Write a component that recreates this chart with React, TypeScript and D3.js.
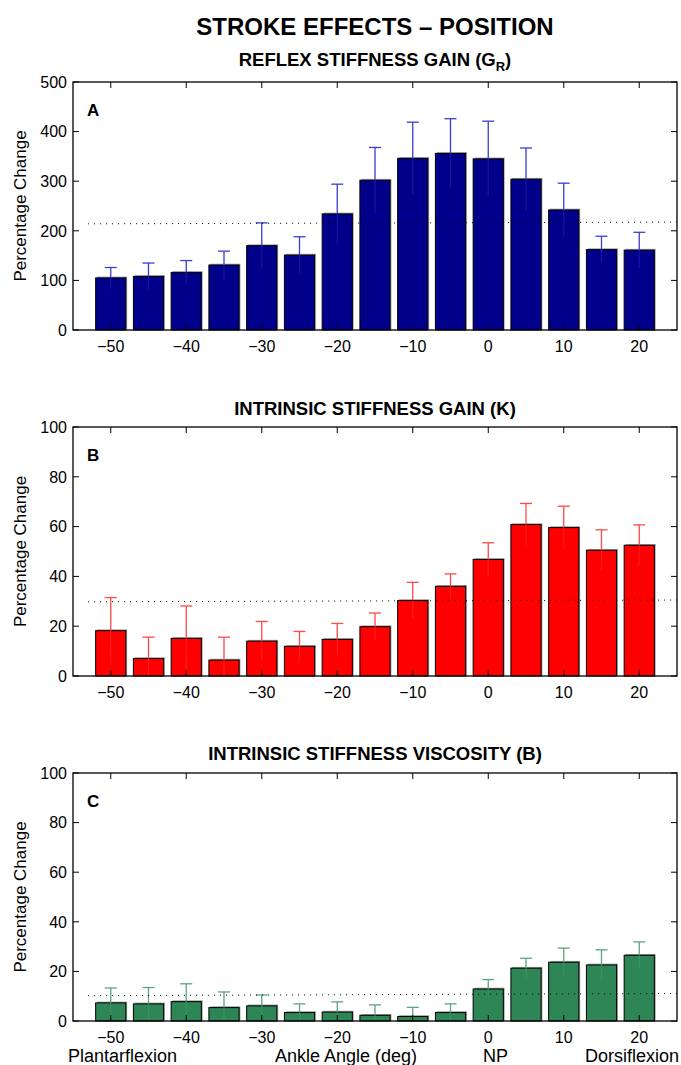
import React from 'react';
import * as d3 from 'd3';

// ankle angles (deg) of the 15 bars and the tick labels under them
const angles = [-50, -45, -40, -35, -30, -25, -20, -15, -10, -5, 0, 5, 10, 15, 20];
const xTicks = [-50, -40, -30, -20, -10, 0, 10, 20];

// A: reflex stiffness gain
const reflexGain = [105, 108, 116, 131, 170, 151, 234, 302, 346, 356, 345, 304, 242, 162, 161];
const reflexErr = [21, 27, 24, 28, 46, 37, 60, 66, 73, 70, 76, 63, 54, 27, 36];
const reflexRef = [214, 217.5];
const reflexTicks = [0, 100, 200, 300, 400, 500];

// B: intrinsic stiffness gain
const intrinsicGain = [18.2, 7.0, 15.1, 6.4, 14.0, 11.9, 14.7, 19.8, 30.3, 36.0, 46.8, 60.8, 59.6, 50.5, 52.5];
const intrinsicErr = [13.3, 8.6, 13.0, 9.2, 7.9, 6.0, 6.4, 5.5, 7.3, 5.0, 6.7, 8.5, 8.6, 8.2, 8.2];
const intrinsicRef = [29.8, 30.5];

// C: intrinsic viscosity
const viscosity = [7.3, 6.9, 7.8, 5.4, 6.1, 3.4, 3.6, 2.3, 1.8, 3.4, 12.9, 21.3, 23.7, 22.6, 26.5];
const viscosityErr = [6.0, 6.6, 7.2, 6.3, 4.4, 3.5, 4.1, 4.2, 3.7, 3.5, 3.8, 4.0, 5.7, 6.1, 5.4];
const viscosityRef = [10.2, 11.1];

const pctTicks = [0, 20, 40, 60, 80, 100];

const FONT = '"Liberation Sans", Arial, Helvetica, sans-serif';
const left = 73, right = 677;
const x = d3.scaleLinear().domain([-55, 25]).range([left, right]);
const minus = (t: number) => String(t).replace('-', '\u2212');

type PanelProps = {
  top: number; bottom: number; yMax: number; yTicks: number[];
  values: number[]; errors: number[]; refLine: number[];
  fill: string; errColor: string; letter: string;
};

function Panel({top, bottom, yMax, yTicks, values, errors, refLine, fill, errColor, letter}: PanelProps) {
  const y = d3.scaleLinear().domain([0, yMax]).range([bottom, top]);
  const tick = 6;
  const cap = 6;
  return (
    <g>
      {/* bars, with a faint grey shadow like the original print */}
      {angles.map((a, i) => {
        const x0 = x(a - 2), x1 = x(a + 2);
        return (
          <g key={a}>
            <rect x={x0 + 1.3} y={y(values[i]) - 1.3} width={x1 - x0} height={y(0) - y(values[i]) + 1.3} fill="#9a9a9a" />
            <rect x={x0} y={y(values[i])} width={x1 - x0} height={y(0) - y(values[i])} fill={fill} stroke="#000" strokeWidth={1} />
          </g>
        );
      })}
      {/* error bars */}
      {angles.map((a, i) => {
        const v = values[i], e = errors[i];
        const cx = x(a);
        return (
          <g key={'e' + a} stroke={errColor} strokeWidth={1.3}>
            <line x1={cx} x2={cx} y1={y(v)} y2={y(Math.max(0, v - e))} opacity={0.35} />
            <line x1={cx} x2={cx} y1={y(v)} y2={y(v + e)} />
            <line x1={cx - cap} x2={cx + cap} y1={y(v + e)} y2={y(v + e)} />
          </g>
        );
      })}
      {/* dotted reference line */}
      <line x1={x(-53)} x2={x(25)} y1={y(refLine[0])} y2={y(refLine[1])}
        stroke="#000" strokeWidth={1} strokeDasharray="1,5" />
      {/* frame */}
      <rect x={left} y={top} width={right - left} height={bottom - top} fill="none" stroke="#000" strokeWidth={1.3} />
      {yTicks.map(t => (
        <g key={'y' + t}>
          <line x1={left} x2={left + tick} y1={y(t)} y2={y(t)} stroke="#000" />
          <line x1={right} x2={right - tick} y1={y(t)} y2={y(t)} stroke="#000" />
          <text x={left - 6} y={y(t)} dy="0.36em" textAnchor="end" fontSize={16}>{t}</text>
        </g>
      ))}
      {xTicks.map(t => (
        <g key={'x' + t}>
          <line x1={x(t)} x2={x(t)} y1={bottom} y2={bottom - tick} stroke="#000" />
          <line x1={x(t)} x2={x(t)} y1={top} y2={top + tick} stroke="#000" />
          <text x={x(t)} y={bottom + 21.5} textAnchor="middle" fontSize={16}>{minus(t)}</text>
        </g>
      ))}
      <text x={87} y={top + 34} fontSize={17} fontWeight="bold">{letter}</text>
      <text transform={`translate(26,${(top + bottom) / 2}) rotate(-90)`} textAnchor="middle" fontSize={17}>Percentage Change</text>
    </g>
  );
}

export default function App() {
  const mid = (left + right) / 2;
  return (
    <div style={{position: 'absolute', left: 0, top: 0}}>
      <svg width={681} height={1065} fontFamily={FONT} style={{display: 'block', background: '#fff'}}>
        <text x={mid} y={35} textAnchor="middle" fontSize={24} fontWeight="bold">STROKE EFFECTS – POSITION</text>
        <text x={mid} y={66} textAnchor="middle" fontSize={18.5} fontWeight="bold">
          REFLEX STIFFNESS GAIN (G<tspan fontSize={13} dy={5}>R</tspan><tspan dy={-5}>)</tspan>
        </text>
        <Panel top={82} bottom={330} yMax={500} yTicks={reflexTicks} values={reflexGain} errors={reflexErr}
          refLine={reflexRef} fill="#00008b" errColor="#3c3cd2" letter="A" />

        <text x={mid} y={415} textAnchor="middle" fontSize={18.5} fontWeight="bold">INTRINSIC STIFFNESS GAIN (K)</text>
        <Panel top={427} bottom={676} yMax={100} yTicks={pctTicks} values={intrinsicGain} errors={intrinsicErr}
          refLine={intrinsicRef} fill="#ff0000" errColor="#ff4848" letter="B" />

        <text x={mid} y={760} textAnchor="middle" fontSize={18.5} fontWeight="bold">INTRINSIC STIFFNESS VISCOSITY (B)</text>
        <Panel top={773} bottom={1021} yMax={100} yTicks={pctTicks} values={viscosity} errors={viscosityErr}
          refLine={viscosityRef} fill="#2e8555" errColor="#5ba57d" letter="C" />

        <g fontSize={18}>
          <text x={68} y={1062}>Plantarflexion</text>
          <text x={275} y={1062}>Ankle Angle (deg)</text>
          <text x={483} y={1062}>NP</text>
          <text x={679} y={1062} textAnchor="end">Dorsiflexion</text>
        </g>
      </svg>
    </div>
  );
}
